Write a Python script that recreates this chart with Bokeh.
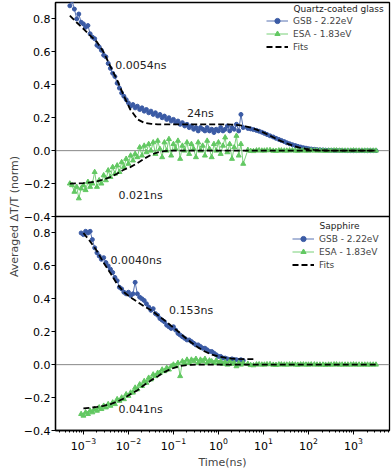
from bokeh.plotting import figure
from bokeh.models import (Range1d, Span, Label, Legend, LegendItem, FixedTicker,
                          CustomJSTickFormatter)
from bokeh.embed import file_html
from bokeh.resources import INLINE

# ---------------- data ----------------
# Quartz-coated glass: dense early-time data (ns)
t_quartz = [5.0e-4, 5.6e-4, 6.3e-4, 7.1e-4, 7.9e-4, 8.9e-4,
            1.0e-3, 1.12e-3, 1.26e-3, 1.41e-3, 1.58e-3, 1.78e-3, 2.0e-3, 2.24e-3, 2.51e-3, 2.82e-3,
            3.16e-3, 3.55e-3, 3.98e-3, 4.47e-3, 5.01e-3, 5.62e-3, 6.31e-3, 7.08e-3, 7.94e-3, 8.91e-3,
            0.01, 0.0112, 0.0126, 0.0141, 0.0158, 0.0178, 0.02, 0.0224, 0.0251, 0.0282,
            0.0316, 0.0355, 0.0398, 0.0447, 0.0501, 0.0562, 0.0631, 0.0708, 0.0794, 0.0891,
            0.1, 0.112, 0.126, 0.141, 0.158, 0.178, 0.2, 0.224, 0.251, 0.282,
            0.316, 0.355, 0.398, 0.447, 0.501, 0.562, 0.631, 0.708, 0.794, 0.891,
            1.0, 1.12, 1.26, 1.41, 1.58, 1.78, 2.0, 2.24, 2.51, 2.82, 3.16, 3.55]
gsb_quartz = [0.88, 0.91, 0.86, 0.80, 0.83, 0.78,
              0.77, 0.75, 0.76, 0.71, 0.69, 0.68, 0.64, 0.63, 0.61, 0.58,
              0.57, 0.53, 0.50, 0.47, 0.45, 0.41, 0.38, 0.35, 0.33, 0.31,
              0.29, 0.27, 0.28, 0.26, 0.27, 0.25, 0.26, 0.24, 0.25, 0.23,
              0.24, 0.22, 0.23, 0.21, 0.22, 0.20, 0.21, 0.19, 0.20, 0.18,
              0.19, 0.17, 0.18, 0.16, 0.17, 0.15, 0.16, 0.14, 0.15, 0.13,
              0.14, 0.12, 0.14, 0.13, 0.12, 0.14, 0.12, 0.13, 0.11, 0.13,
              0.12, 0.14, 0.12, 0.13, 0.15, 0.12, 0.14, 0.13, 0.16, 0.12, 0.22, 0.14]
esa_quartz = [-0.20, -0.21, -0.25, -0.22, -0.29, -0.23,
              -0.21, -0.24, -0.19, -0.22, -0.20, -0.13, -0.22, -0.18, -0.20, -0.15,
              -0.18, -0.12, -0.16, -0.10, -0.14, -0.09, -0.13, -0.07, -0.10, -0.05,
              -0.08, -0.03, -0.06, -0.02, -0.04, 0.02, -0.03, 0.03, -0.01, 0.04,
              0.00, 0.05, -0.02, 0.06, 0.01, -0.04, 0.05, 0.00, 0.07, -0.03,
              0.04, 0.01, 0.06, -0.05, 0.03, 0.00, 0.05, -0.02, 0.04, 0.01,
              -0.04, 0.05, 0.00, 0.03, -0.03, 0.06, 0.01, -0.04, 0.04, 0.00,
              0.05, -0.02, 0.03, 0.08, -0.01, 0.04, -0.05, 0.02, 0.09, -0.03, 0.04, -0.08]

# long-time tail (ns)
t_tail = [4.5, 5.2, 6, 7, 8, 9.2, 10.5, 12, 14, 16.5, 19, 22, 25, 29, 33, 38, 44, 51, 58, 67,
          77, 88, 100, 115, 135, 155, 180, 210, 240, 280, 320, 370, 420, 490, 560, 650, 750,
          870, 1000, 1150, 1330, 1540, 1780, 2050, 2370, 2740, 3160]
gsb_quartz_tail = [0.135, 0.132, 0.128, 0.123, 0.118, 0.112, 0.105, 0.098, 0.09, 0.083, 0.075,
                   0.068, 0.062, 0.055, 0.048, 0.042, 0.036, 0.031, 0.026, 0.022, 0.018, 0.015,
                   0.012, 0.01, 0.008, 0.006, 0.005, 0.004, 0.003, 0.002, 0.002, 0.001, 0.001,
                   0.001, 0.001, 0.0, 0.0, 0.0, 0.0, 0.0, 0.0, 0.0, 0.0, 0.0, 0.0, 0.0, 0.0]
esa_quartz_tail = [0.004, -0.002, -0.003, 0.001, 0.002, 0.0, 0.0, 0.002, 0.003, -0.001, -0.002,
                   0.001, 0.001, 0.0, 0.0, 0.001, 0.002, 0.0, -0.001, 0.001, 0.001, 0.0, 0.0, 0.001,
                   0.001, 0.0, 0.0, 0.0, -0.001, 0.0, 0.0, 0.001, 0.001, 0.0, 0.0, 0.0, 0.0, 0.0,
                   0.001, 0.0, 0.0, 0.0, 0.0, 0.0, 0.0, 0.0, 0.0]

# Fits, quartz
t_fit_quartz = [5e-4, 7e-4, 1e-3, 1.4e-3, 2e-3, 2.8e-3, 4e-3, 5.6e-3, 8e-3, 0.011, 0.016, 0.022,
                0.032, 0.045, 0.063, 0.09, 0.13, 0.18, 0.25, 0.35, 0.5, 0.7, 1.0, 1.4, 2.0, 2.8,
                4.0, 5.6, 8.0, 11, 16, 22, 32, 45, 63, 90, 130, 180, 250, 350, 500, 700, 1000,
                1400, 2000, 2800, 3160]
fit_gsb_quartz = [0.82, 0.78, 0.74, 0.70, 0.66, 0.60, 0.51, 0.43, 0.33, 0.25, 0.19, 0.17,
                  0.163, 0.16, 0.16, 0.16, 0.16, 0.16, 0.16, 0.16, 0.16, 0.16, 0.16, 0.16, 0.158,
                  0.155, 0.148, 0.138, 0.122, 0.105, 0.083, 0.064, 0.045, 0.03, 0.019, 0.01,
                  0.005, 0.002, 0.001, 0, 0, 0, 0, 0, 0, 0, 0]
fit_esa_quartz = [-0.20, -0.199, -0.197, -0.193, -0.186, -0.175, -0.16, -0.14, -0.115, -0.10,
                  -0.075, -0.05, -0.025, -0.01, -0.003, 0, 0, 0, 0, 0, 0, 0, 0, 0, 0, 0,
                  0, 0, 0, 0, 0, 0, 0, 0, 0, 0, 0, 0, 0, 0, 0, 0, 0, 0, 0, 0, 0]

# Sapphire
t_sapph = [8.9e-4,
           1.0e-3, 1.12e-3, 1.26e-3, 1.41e-3, 1.58e-3, 1.78e-3, 2.0e-3, 2.24e-3, 2.51e-3, 2.82e-3,
           3.16e-3, 3.55e-3, 3.98e-3, 4.47e-3, 5.01e-3, 5.62e-3, 6.31e-3, 7.08e-3, 7.94e-3, 8.91e-3,
           0.01, 0.0112, 0.0126, 0.0141, 0.0158, 0.0178, 0.02, 0.0224, 0.0251, 0.0282,
           0.0316, 0.0355, 0.0398, 0.0447, 0.0501, 0.0562, 0.0631, 0.0708, 0.0794, 0.0891,
           0.1, 0.112, 0.126, 0.141, 0.158, 0.178, 0.2, 0.224, 0.251, 0.282,
           0.316, 0.355, 0.398, 0.447, 0.501, 0.562, 0.631, 0.708, 0.794, 0.891,
           1.0, 1.12, 1.26, 1.41, 1.58, 1.78, 2.0, 2.24, 2.51, 2.82, 3.16, 3.55]
gsb_sapph = [0.80, 0.79, 0.81, 0.80, 0.81, 0.76, 0.71, 0.68, 0.66, 0.64, 0.65,
             0.62, 0.60, 0.58, 0.56, 0.53, 0.51, 0.47, 0.46, 0.44, 0.43,
             0.44, 0.42, 0.43, 0.50, 0.43, 0.41, 0.40, 0.39, 0.37, 0.35,
             0.33, 0.34, 0.31, 0.30, 0.28, 0.27, 0.26, 0.24, 0.23, 0.22,
             0.23, 0.21, 0.19, 0.18, 0.17, 0.16, 0.15, 0.15, 0.14, 0.13,
             0.12, 0.12, 0.11, 0.10, 0.10, 0.09, 0.08, 0.08, 0.07, 0.06,
             0.05, 0.05, 0.04, 0.04, 0.035, 0.03, 0.035, 0.03, 0.03, 0.025, 0.03, 0.025]
esa_sapph = [-0.30, -0.31, -0.29, -0.30, -0.28, -0.29, -0.27, -0.28, -0.26, -0.27, -0.25,
             -0.26, -0.24, -0.25, -0.23, -0.24, -0.21, -0.22, -0.20, -0.21, -0.18,
             -0.19, -0.17, -0.17, -0.14, -0.15, -0.12, -0.13, -0.10, -0.11, -0.08,
             -0.09, -0.06, -0.07, -0.05, -0.05, -0.03, -0.04, -0.02, -0.03, -0.01,
             0.00, -0.01, 0.01, -0.07, 0.02, 0.01, 0.03, 0.01, 0.03, 0.02,
             0.035, 0.01, 0.03, 0.02, 0.035, 0.01, 0.025, 0.02, 0.01, 0.025,
             0.01, 0.02, 0.005, 0.015, 0.0, 0.02, 0.005, 0.01, -0.01, 0.01, 0.0, 0.01]
esa_sapph_tail = [0.005, -0.003, -0.004, 0.001, 0.002, 0.0, 0.0, 0.002, 0.003, -0.001, -0.002,
                  0.001, 0.001, 0.0, 0.0, 0.001, 0.002, 0.0, -0.001, 0.001, 0.001, 0.0, 0.0, 0.001,
                  0.001, 0.0, 0.0, 0.0, -0.001, 0.0, 0.0, 0.001, 0.001, 0.0, 0.0, 0.0, 0.0, 0.0,
                  0.001, 0.0, 0.0, 0.0, 0.0, 0.0, 0.0, 0.0, 0.0]

t_fit_gsb_sapph = [1e-3, 1.4e-3, 2e-3, 2.8e-3, 4e-3, 5.6e-3, 8e-3, 0.011, 0.016, 0.022, 0.032,
                   0.045, 0.063, 0.09, 0.13, 0.18, 0.25, 0.35, 0.5, 0.7, 1.0, 1.4, 2.0, 2.8, 4.0, 6.0]
fit_gsb_sapph = [0.80, 0.75, 0.69, 0.62, 0.555, 0.49, 0.44, 0.41, 0.38, 0.355, 0.33, 0.30, 0.27,
                 0.235, 0.20, 0.165, 0.135, 0.105, 0.08, 0.062, 0.05, 0.042, 0.037, 0.035, 0.034, 0.034]
t_fit_esa_sapph = [1e-3, 1.4e-3, 2e-3, 2.8e-3, 4e-3, 5.6e-3, 8e-3, 0.011, 0.016, 0.022, 0.032,
                   0.045, 0.063, 0.09, 0.13, 0.18, 0.25, 0.35, 0.5, 1, 3, 10, 30, 100, 300, 1000, 3160]
fit_esa_sapph = [-0.265, -0.262, -0.257, -0.25, -0.24, -0.225, -0.205, -0.18, -0.155, -0.125,
                 -0.095, -0.07, -0.045, -0.025, -0.01, -0.004, -0.001, 0, 0, 0, 0, 0, 0, 0, 0, 0, 0]

Y_TICKS = [-0.4, -0.2, 0.0, 0.2, 0.4, 0.6, 0.8]
X_TICKS = [1e-3, 1e-2, 1e-1, 1e0, 1e1, 1e2, 1e3]

# ---------------- styling / layout ----------------
FONT = "DejaVu Sans"
BLUE = "#3b5ba5"
GREEN = "#62c862"
X_LO, X_HI = 10 ** -3.62, 10 ** 3.8
Y_LO, Y_HI = -0.4, 0.9
SPAN = Y_HI - Y_LO          # each panel covers the same value span
W, H = 392, 471
B_LEFT, B_RIGHT, B_TOP, B_BOTTOM = 55, 3, 2, 37
FRAME_H = H - B_TOP - B_BOTTOM   # 432 -> 216 per panel

p = figure(width=W, height=H, x_axis_type="log",
           x_range=Range1d(X_LO, X_HI), y_range=Range1d(Y_LO - SPAN, Y_HI),
           output_backend="svg", toolbar_location=None,
           min_border_left=B_LEFT, min_border_right=B_RIGHT,
           min_border_top=B_TOP, min_border_bottom=B_BOTTOM)
# the lower panel (Sapphire) has its own y scale occupying the lower half of the frame
p.extra_y_ranges = {"bot": Range1d(Y_LO, Y_HI + SPAN)}
p.grid.visible = False
p.outline_line_color = "black"
p.outline_line_width = 1.3

ya = p.yaxis[0]
ya.ticker = FixedTicker(ticks=Y_TICKS + [v - SPAN for v in Y_TICKS])
ya.formatter = CustomJSTickFormatter(code="""
    let v = tick < -0.45 ? tick + %f : tick;
    if (Math.abs(v) < 1e-9) { v = 0; }
    return v.toFixed(1).replace('-', '\\u2212');
""" % SPAN)
ya.major_tick_out = 4
ya.major_tick_in = 0
ya.minor_tick_out = 0
ya.minor_tick_in = 0
ya.axis_line_width = 1.3
ya.major_label_text_font = FONT
ya.major_label_text_font_size = "11px"
ya.major_label_text_color = "black"
ya.major_label_standoff = 1
ya.axis_label = "Averaged ΔT/T (norm)"
ya.axis_label_text_font = FONT
ya.axis_label_text_font_size = "11px"
ya.axis_label_text_font_style = "normal"
ya.axis_label_standoff = 0

xa = p.xaxis[0]
minor = [m * 10 ** k for k in range(-4, 4) for m in range(2, 10)]
xa.ticker = FixedTicker(ticks=X_TICKS, minor_ticks=minor)
xa.major_tick_out = 4
xa.major_tick_in = 0
xa.minor_tick_out = 2
xa.minor_tick_in = 0
xa.axis_line_width = 1.3
xa.major_label_text_font = FONT
xa.major_label_text_font_size = "11px"
xa.major_label_text_color = "black"
xa.major_label_standoff = 3
xa.axis_label = "Time(ns)"
xa.axis_label_text_font = FONT
xa.axis_label_text_font_size = "11px"
xa.axis_label_text_font_style = "normal"
xa.axis_label_standoff = 3

# zero lines and panel divider
p.add_layout(Span(location=0, dimension="width", line_color="#888888", line_width=1, level="underlay"))
p.add_layout(Span(location=0, dimension="width", line_color="#888888", line_width=1,
                  level="underlay", y_range_name="bot"))
p.add_layout(Span(location=Y_LO, dimension="width", line_color="black", line_width=1.3))


def add_text(x, y, txt, rng="default"):
    p.add_layout(Label(x=x, y=y, text=txt, text_font=FONT, text_font_size="11px",
                       text_color="#222222", text_align="left", text_baseline="middle",
                       y_range_name=rng))


# ---------------- top panel: Quartz-coated glass ----------------
tq = t_quartz + t_tail
gq = gsb_quartz + gsb_quartz_tail
eq = esa_quartz + esa_quartz_tail
l_g1 = p.line(tq, gq, line_color=BLUE, line_width=1, line_alpha=0.85)
s_g1 = p.scatter(tq, gq, marker="circle", size=4, fill_color=BLUE, line_color=BLUE)
l_e1 = p.line(tq, eq, line_color=GREEN, line_width=1, line_alpha=0.85)
s_e1 = p.scatter(tq, eq, marker="triangle", size=5, fill_color=GREEN, line_color=GREEN)
f_g1 = p.line(t_fit_quartz, fit_gsb_quartz, line_color="black", line_width=1.8, line_dash="6 3")
f_e1 = p.line(t_fit_quartz, fit_esa_quartz, line_color="black", line_width=1.8, line_dash="6 3")
add_text(0.0051, 0.52, "0.0054ns")
add_text(0.2, 0.225, "24ns")
add_text(0.006, -0.27, "0.021ns")

# ---------------- bottom panel: Sapphire ----------------
te = t_sapph + t_tail
es = esa_sapph + esa_sapph_tail
l_g2 = p.line(t_sapph, gsb_sapph, line_color=BLUE, line_width=1, line_alpha=0.85, y_range_name="bot")
s_g2 = p.scatter(t_sapph, gsb_sapph, marker="circle", size=4, fill_color=BLUE, line_color=BLUE,
                 y_range_name="bot")
l_e2 = p.line(te, es, line_color=GREEN, line_width=1, line_alpha=0.85, y_range_name="bot")
s_e2 = p.scatter(te, es, marker="triangle", size=5, fill_color=GREEN, line_color=GREEN,
                 y_range_name="bot")
f_g2 = p.line(t_fit_gsb_sapph, fit_gsb_sapph, line_color="black", line_width=1.8, line_dash="6 3",
              y_range_name="bot")
f_e2 = p.line(t_fit_esa_sapph, fit_esa_sapph, line_color="black", line_width=1.8, line_dash="6 3",
              y_range_name="bot")
add_text(0.004, 0.63, "0.0040ns", "bot")
add_text(0.08, 0.33, "0.153ns", "bot")
add_text(0.006, -0.27, "0.041ns", "bot")


def make_legend(items, loc):
    lg = Legend(items=items, location=loc, label_text_font=FONT, label_text_font_size="9px",
                glyph_width=22, glyph_height=13, label_height=13, label_standoff=5,
                spacing=0, padding=0, margin=0, border_line_alpha=0,
                background_fill_alpha=0)
    p.add_layout(lg)


make_legend([LegendItem(label="GSB - 2.22eV", renderers=[l_g1, s_g1]),
             LegendItem(label="ESA - 1.83eV", renderers=[l_e1, s_e1]),
             LegendItem(label="Fits", renderers=[f_g1])], (211, FRAME_H - 55))
make_legend([LegendItem(label="GSB - 2.22eV", renderers=[l_g2, s_g2]),
             LegendItem(label="ESA - 1.83eV", renderers=[l_e2, s_e2]),
             LegendItem(label="Fits", renderers=[f_g2])], (237, FRAME_H - 273))

p.add_layout(Label(x=283, y=FRAME_H - 10, x_units="screen", y_units="screen",
                   text="Quartz-coated glass", text_font=FONT, text_font_size="9px",
                   text_align="center", text_baseline="middle", text_color="#222222"))
p.add_layout(Label(x=284, y=FRAME_H - 227, x_units="screen", y_units="screen",
                   text="Sapphire", text_font=FONT, text_font_size="9px",
                   text_align="center", text_baseline="middle", text_color="#222222"))

open("out.html", "w").write(file_html(p, INLINE))
